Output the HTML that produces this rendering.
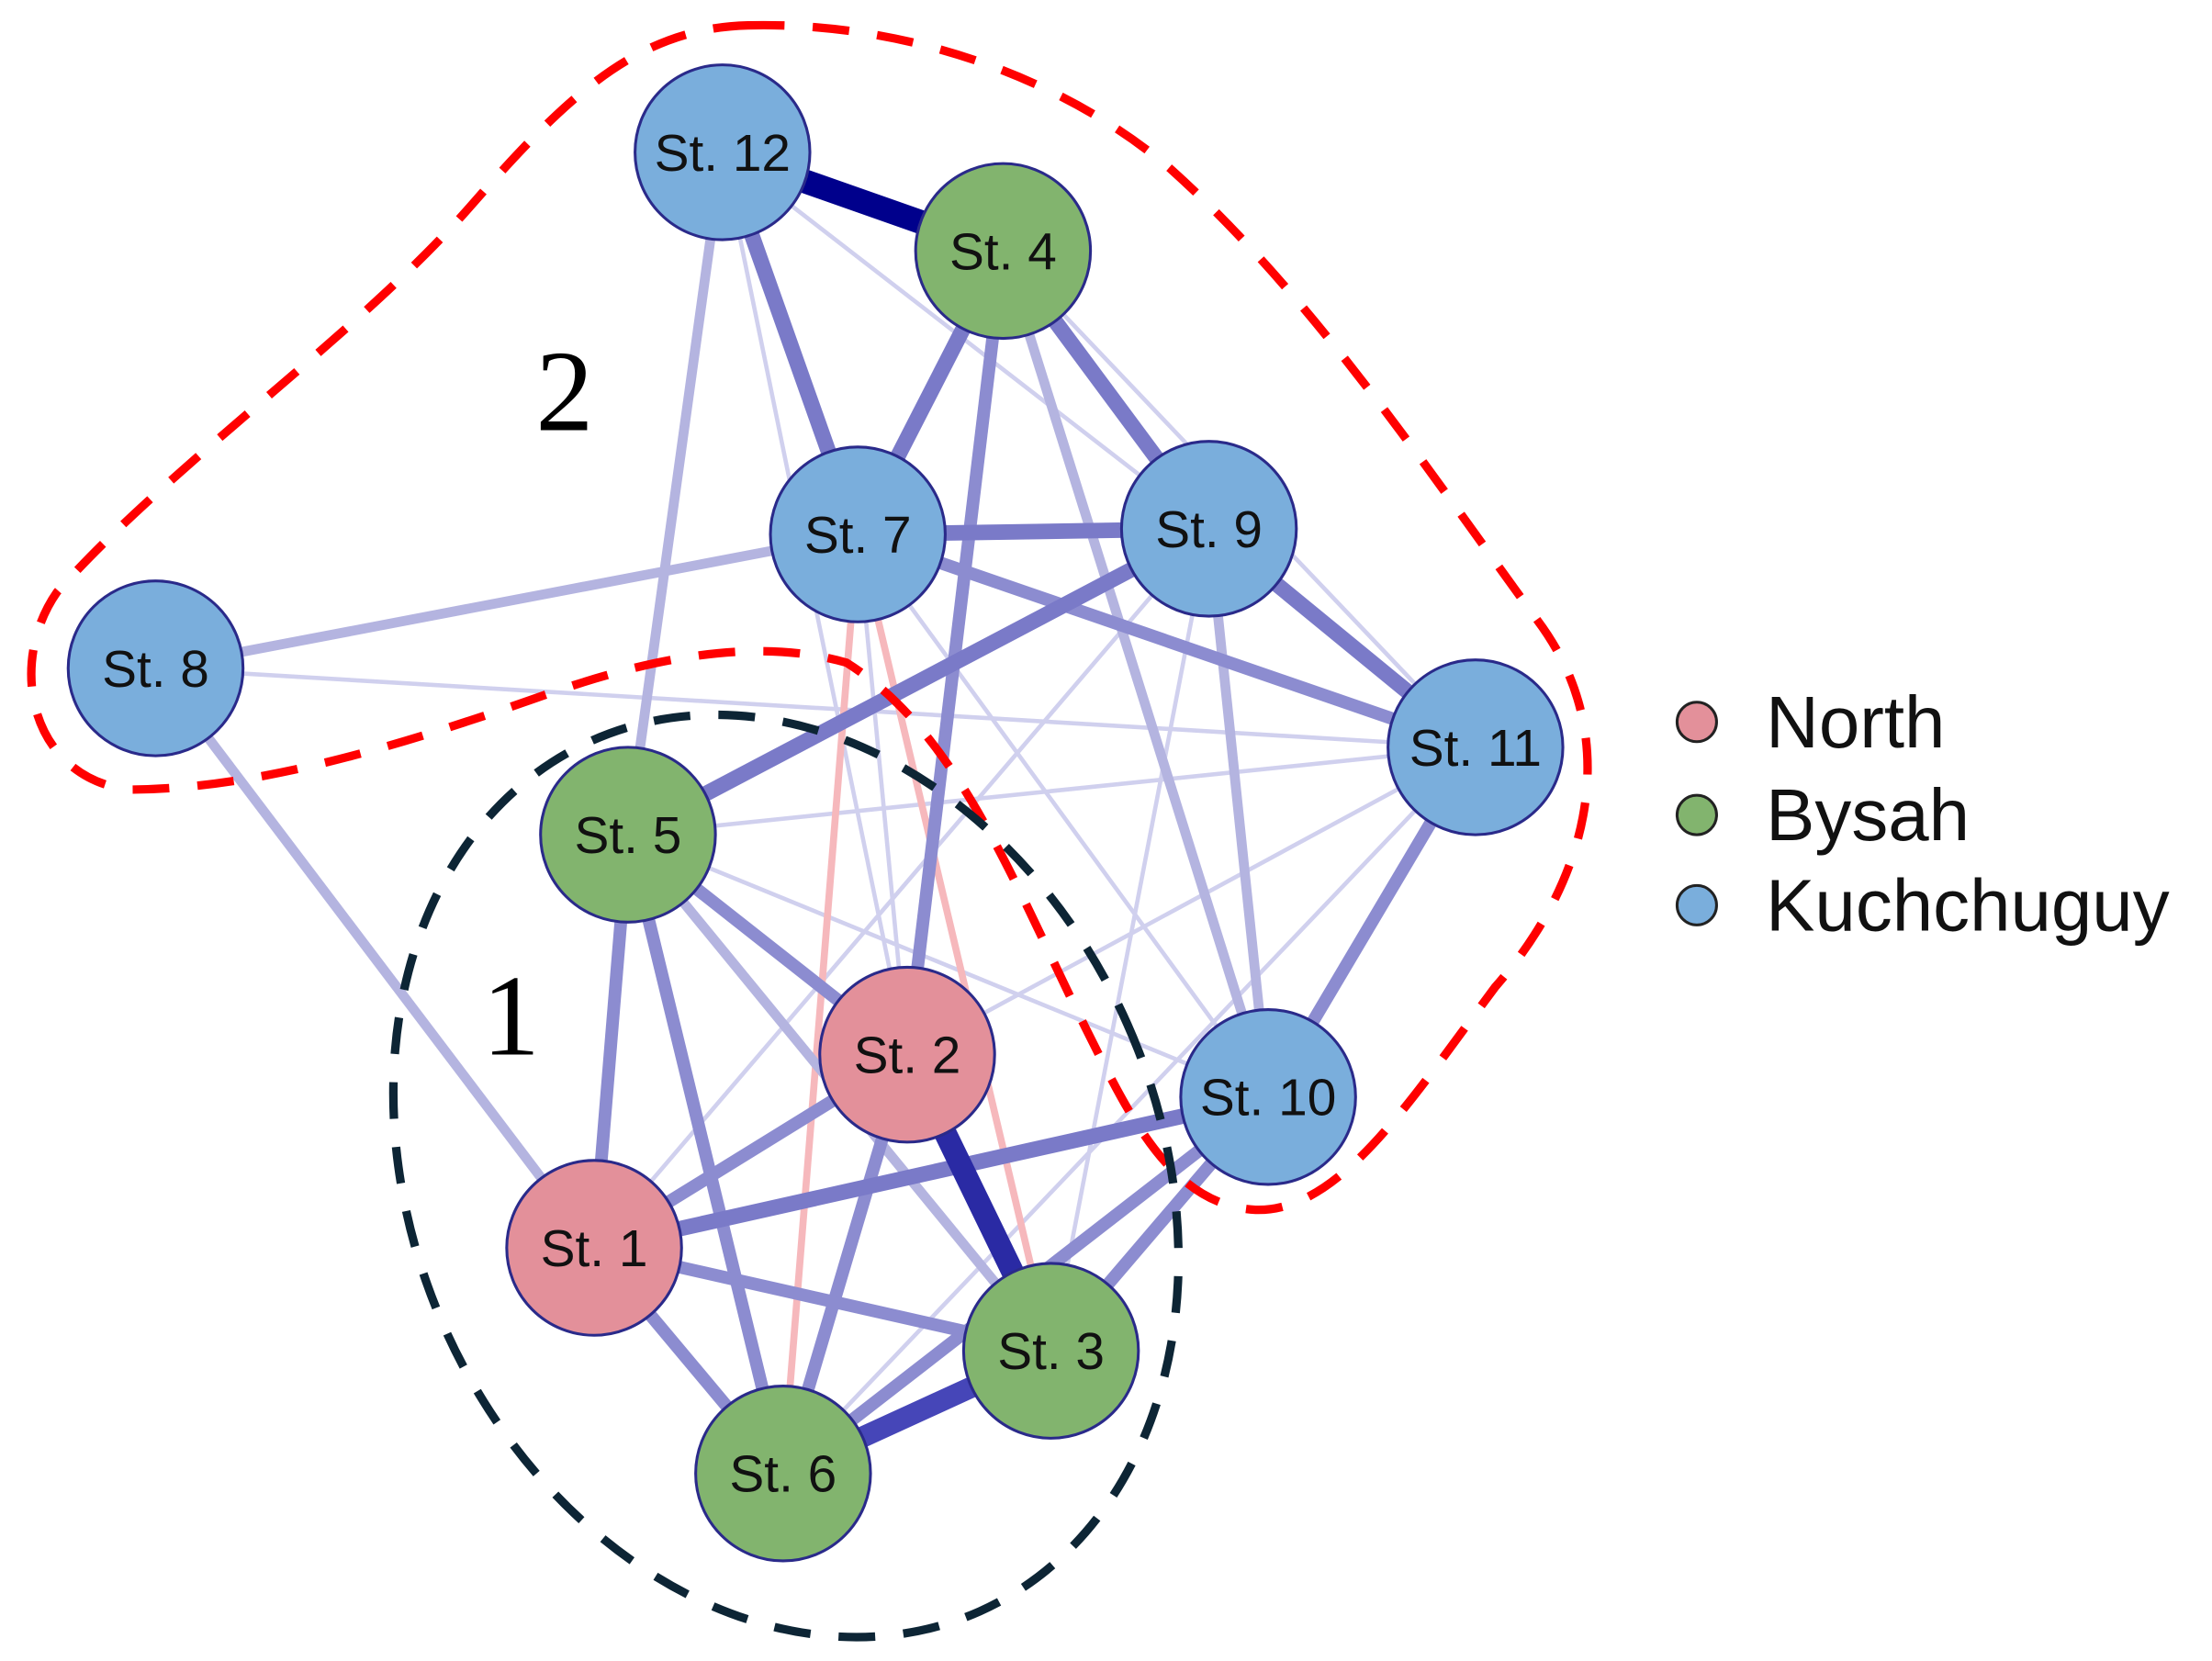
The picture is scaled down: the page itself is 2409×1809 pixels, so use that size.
<!DOCTYPE html>
<html><head><style>html,body{margin:0;padding:0;background:#fff;width:2409px;height:1809px;overflow:hidden;}svg{display:block;}</style></head>
<body>
<svg width="2409" height="1809" viewBox="0 0 1568 1178" xmlns="http://www.w3.org/2000/svg" font-family="Liberation Sans, sans-serif">
<rect width="1568" height="1178" fill="#fff"/>
<g stroke-linecap="butt">
<g stroke="#d0d0ee" stroke-width="3">
<line x1="110" y1="474" x2="1046" y2="530"/>
<line x1="512" y1="108" x2="857" y2="375"/>
<line x1="512" y1="108" x2="643" y2="748"/>
<line x1="608" y1="379" x2="643" y2="748"/>
<line x1="857" y1="375" x2="421" y2="885"/>
<line x1="445" y1="592" x2="1046" y2="530"/>
<line x1="711" y1="178" x2="1046" y2="530"/>
<line x1="608" y1="379" x2="899" y2="778"/>
<line x1="1046" y1="530" x2="643" y2="748"/>
<line x1="1046" y1="530" x2="555" y2="1045"/>
<line x1="857" y1="375" x2="745" y2="958"/>
<line x1="445" y1="592" x2="899" y2="778"/>
</g>
<line x1="608" y1="379" x2="745" y2="958" stroke="#f6b8bc" stroke-width="5"/>
<line x1="608" y1="379" x2="555" y2="1045" stroke="#f6b8bc" stroke-width="5"/>
<g stroke="#b4b4e0" stroke-width="7">
<line x1="608" y1="379" x2="110" y2="474"/>
<line x1="512" y1="108" x2="445" y2="592"/>
<line x1="110" y1="474" x2="421" y2="885"/>
<line x1="711" y1="178" x2="899" y2="778"/>
<line x1="445" y1="592" x2="745" y2="958"/>
<line x1="857" y1="375" x2="899" y2="778"/>
</g>
<g stroke="#8c8cd0" stroke-width="9">
<line x1="608" y1="379" x2="1046" y2="530"/>
<line x1="445" y1="592" x2="421" y2="885"/>
<line x1="445" y1="592" x2="555" y2="1045"/>
<line x1="445" y1="592" x2="643" y2="748"/>
<line x1="643" y1="748" x2="421" y2="885"/>
<line x1="643" y1="748" x2="555" y2="1045"/>
<line x1="421" y1="885" x2="745" y2="958"/>
<line x1="421" y1="885" x2="555" y2="1045"/>
<line x1="745" y1="958" x2="899" y2="778"/>
<line x1="555" y1="1045" x2="899" y2="778"/>
<line x1="1046" y1="530" x2="899" y2="778"/>
<line x1="711" y1="178" x2="643" y2="748"/>
</g>
<g stroke="#7a7ac8" stroke-width="11">
<line x1="512" y1="108" x2="608" y2="379"/>
<line x1="711" y1="178" x2="608" y2="379"/>
<line x1="711" y1="178" x2="857" y2="375"/>
<line x1="608" y1="379" x2="857" y2="375"/>
<line x1="857" y1="375" x2="445" y2="592"/>
<line x1="857" y1="375" x2="1046" y2="530"/>
<line x1="421" y1="885" x2="899" y2="778"/>
</g>
<line x1="745" y1="958" x2="555" y2="1045" stroke="#4646b8" stroke-width="15"/>
<line x1="643" y1="748" x2="745" y2="958" stroke="#2a2aa4" stroke-width="16"/>
<line x1="512" y1="108" x2="711" y2="178" stroke="#00008c" stroke-width="17"/>
</g>
<path d="M530,18 C650,15 760,60 830,120 C930,210 1010,330 1090,440 C1150,520 1130,620 1060,700 C1000,780 950,860 890,858 C830,855 800,790 770,730 C720,630 680,520 600,470 C530,450 450,470 380,495 C280,530 180,560 90,560 C20,550 5,470 40,420 C120,330 250,240 330,150 C400,70 450,20 530,18 Z" fill="none" stroke="#ff0000" stroke-width="6" stroke-dasharray="26,20"/>
<ellipse cx="557" cy="834" rx="265" ry="338" transform="rotate(-24 557 834)" fill="none" stroke="#0d2535" stroke-width="6" stroke-dasharray="26,20"/>
<text x="400" y="305" font-family="Liberation Serif, serif" font-size="82" text-anchor="middle">2</text>
<text x="362" y="748" font-family="Liberation Serif, serif" font-size="82" text-anchor="middle">1</text>
<g stroke="#2a2a8a" stroke-width="2">
<circle cx="512" cy="108" r="62" fill="#7aaedc"/>
<circle cx="711" cy="178" r="62" fill="#82b46e"/>
<circle cx="608" cy="379" r="62" fill="#7aaedc"/>
<circle cx="857" cy="375" r="62" fill="#7aaedc"/>
<circle cx="110" cy="474" r="62" fill="#7aaedc"/>
<circle cx="1046" cy="530" r="62" fill="#7aaedc"/>
<circle cx="445" cy="592" r="62" fill="#82b46e"/>
<circle cx="643" cy="748" r="62" fill="#e3909a"/>
<circle cx="899" cy="778" r="62" fill="#7aaedc"/>
<circle cx="421" cy="885" r="62" fill="#e3909a"/>
<circle cx="745" cy="958" r="62" fill="#82b46e"/>
<circle cx="555" cy="1045" r="62" fill="#82b46e"/>
</g>
<g fill="#111" font-size="37" text-anchor="middle">
<text x="512" y="121">St. 12</text>
<text x="711" y="191">St. 4</text>
<text x="608" y="392">St. 7</text>
<text x="857" y="388">St. 9</text>
<text x="110" y="487">St. 8</text>
<text x="1046" y="543">St. 11</text>
<text x="445" y="605">St. 5</text>
<text x="643" y="761">St. 2</text>
<text x="899" y="791">St. 10</text>
<text x="421" y="898">St. 1</text>
<text x="745" y="971">St. 3</text>
<text x="555" y="1058">St. 6</text>
</g>
<g stroke="#222" stroke-width="2">
<circle cx="1203" cy="512" r="14" fill="#e3909a"/>
<circle cx="1203" cy="578" r="14" fill="#82b46e"/>
<circle cx="1203" cy="642" r="14" fill="#7aaedc"/>
</g>
<g font-size="52" fill="#111">
<text x="1252" y="530">North</text>
<text x="1252" y="596">Bysah</text>
<text x="1252" y="660">Kuchchuguy</text>
</g>
</svg>
</body></html>
